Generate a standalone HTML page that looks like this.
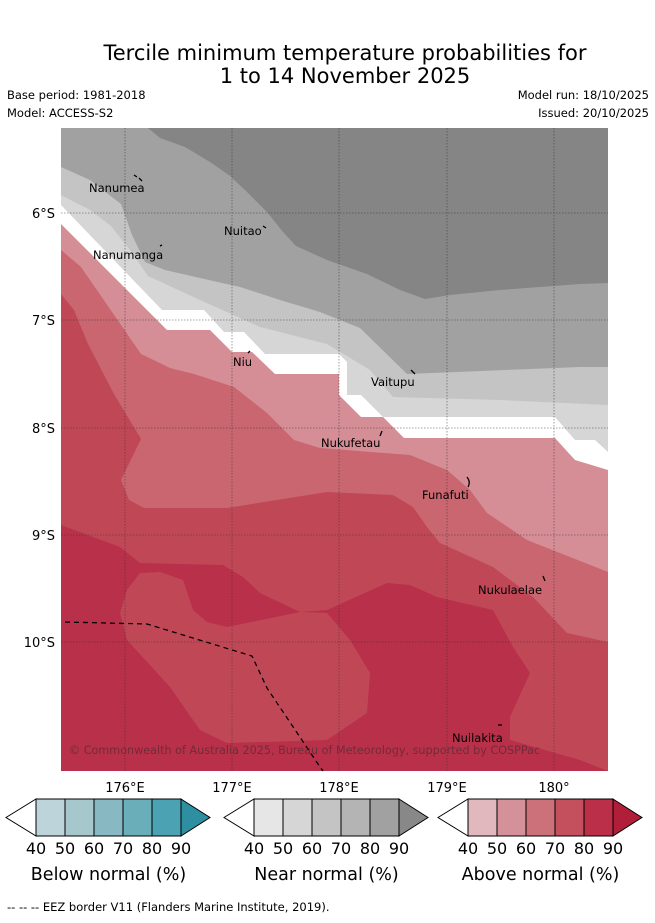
<!DOCTYPE html>
<html><head><meta charset="utf-8"><style>
body{margin:0;background:#fff;width:655px;height:919px;overflow:hidden;font-family:"DejaVu Sans","Liberation Sans",sans-serif;}
svg text{font-family:"DejaVu Sans","Liberation Sans",sans-serif;}
</style></head><body>
<svg id="chart" width="655" height="919" viewBox="0 0 655 919">
<text x="345" y="60" font-size="21" text-anchor="middle">Tercile minimum temperature probabilities for</text>
<text x="345" y="83" font-size="21" text-anchor="middle">1 to 14 November 2025</text>
<text x="7" y="99" font-size="11.5">Base period: 1981-2018</text>
<text x="7" y="117" font-size="11.5">Model: ACCESS-S2</text>
<text x="649" y="99" font-size="11.5" text-anchor="end">Model run: 18/10/2025</text>
<text x="649" y="117" font-size="11.5" text-anchor="end">Issued: 20/10/2025</text>
<g>
<rect x="61" y="128" width="547" height="643" style="fill:#a1a1a1"/>
<path style="fill:#858585" d="M148,128 L160,138 L185,147 L210,162 L233,178 L233,128 Z"/>
<path style="fill:#858585" d="M232,128 L232,178 L245,190 L267,212 L283,232 L296,246 L327,260 L367,274 L400,290 L425,299 L450,295 L500,290 L580,284 L608,283 L608,128 Z"/>
<polygon fill="#c4c4c4" points="61,167 90,180 121,204 132,235 145,262 165,270 200,278 240,287 280,300 320,312 360,328 407,374 580,367 608,367 608,771 61,771"/>
<polygon fill="#d6d6d6" points="61,195 90,210 111,226 130,250 148,276 200,300 260,327 327,344 370,370 393,397 500,400 608,405 608,771 61,771"/>
<polygon fill="#ffffff" points="61,205 162,310 204,310 224,332 244,332 265,354 339,354 347,362 347,395 361,395 383,417 555,417 575,440 595,440 608,452 608,771 61,771"/>
<polygon fill="#d58e96" points="61,224 167,330 210,330 232,352 252,352 275,374 339,374 339,395 361,417 383,417 404,438 555,438 575,460 608,470 608,771 61,771"/>
<polygon fill="#c96670" points="61,250 81,267 141,354 170,368 194,374 234,387 267,413 294,440 320,448 410,455 447,470 470,490 487,513 527,540 608,572 608,771 61,771"/>
<polygon fill="#c04856" points="61,294 74,310 88,344 114,394 141,439 121,480 129,500 144,508 227,508 327,492 393,495 413,507 427,527 440,543 493,567 533,597 567,633 608,642 608,771 61,771"/>
<polygon fill="#b9304a" points="61,525 120,547 140,563 223,565 243,577 260,593 300,612 327,610 387,583 410,585 437,597 493,610 513,647 530,673 510,717 510,740 580,760 608,771 61,771"/>
<polygon fill="#c04856" points="140,573 160,572 183,580 193,610 207,622 227,627 300,612 327,613 350,640 370,673 367,713 327,740 227,743 200,730 170,687 127,640 120,613 127,590"/>
<g stroke="#333" stroke-width="0.8" stroke-dasharray="1.5,1.5" opacity="0.6">
<line x1="125" y1="128" x2="125" y2="771"/><line x1="232" y1="128" x2="232" y2="771"/><line x1="339" y1="128" x2="339" y2="771"/><line x1="447" y1="128" x2="447" y2="771"/><line x1="554" y1="128" x2="554" y2="771"/>
<line x1="61" y1="213" x2="608" y2="213"/><line x1="61" y1="320" x2="608" y2="320"/><line x1="61" y1="428" x2="608" y2="428"/><line x1="61" y1="535" x2="608" y2="535"/><line x1="61" y1="642" x2="608" y2="642"/>
</g>
<polyline fill="none" stroke="#000" stroke-width="1.3" stroke-dasharray="5,4" points="65,622 147,624 242,653 252,656 267,688 320,767 323,771"/>
<g font-size="11.5" fill="#000">
<text x="89" y="192">Nanumea</text>
<text x="93" y="259">Nanumanga</text>
<text x="224" y="235">Nuitao</text>
<text x="233" y="366">Niu</text>
<text x="371" y="386">Vaitupu</text>
<text x="321" y="447">Nukufetau</text>
<text x="422" y="499">Funafuti</text>
<text x="478" y="594">Nukulaelae</text>
<text x="452" y="742">Nuilakita</text>
</g>
<g stroke="#000" stroke-width="1.3">
<line x1="134" y1="175" x2="137" y2="177"/><line x1="139" y1="178" x2="142" y2="181"/>
<line x1="160" y1="246" x2="162" y2="245"/><line x1="263" y1="226" x2="266" y2="228"/>
<line x1="248" y1="353" x2="250" y2="351"/><line x1="411" y1="370" x2="415" y2="374"/>
<line x1="380" y1="436" x2="382" y2="431"/><path d="M467,477 Q471,482 468,487" fill="none"/>
<line x1="543" y1="576" x2="545" y2="581"/><line x1="498" y1="725" x2="502" y2="725"/>
</g>
<text x="69" y="754" font-size="11.2" fill="#5a2a32" opacity="0.75">© Commonwealth of Australia 2025, Bureau of Meteorology, supported by COSPPac</text>
</g>
<g font-size="13">
<text x="55" y="218" text-anchor="end">6°S</text><text x="55" y="325" text-anchor="end">7°S</text><text x="55" y="433" text-anchor="end">8°S</text><text x="55" y="540" text-anchor="end">9°S</text><text x="55" y="647" text-anchor="end">10°S</text>
</g>
<g font-size="13" text-anchor="middle">
<text x="125" y="792">176°E</text><text x="232" y="792">177°E</text><text x="339" y="792">178°E</text><text x="447" y="792">179°E</text><text x="554" y="792">180°</text>
</g>
<g id="cbars"></g>
<text x="7" y="911" font-size="11.5">--  --  -- EEZ border V11 (Flanders Marine Institute, 2019).</text>
</svg>
<script>
const tickLabels = ["40","50","60","70","80","90"];
const belowColors = ["#bcd4da","#a6c8cd","#88b8c2","#6aaeba","#4aa2b2","#2e8fa0"];
const nearColors = ["#e6e6e6","#d6d6d6","#c4c4c4","#b4b4b4","#a1a1a1","#888888"];
const aboveColors = ["#e0b8be","#d5919a","#cc7079","#c4505e","#bb2f48","#b01e3a"];
const barTitles = ["Below normal (%)","Near normal (%)","Above normal (%)"];
const NS="http://www.w3.org/2000/svg";
const g=document.getElementById('cbars');
const bars=[[36,belowColors],[254,nearColors],[468,aboveColors]];
function mk(t,a){const e=document.createElementNS(NS,t);for(const k in a)e.setAttribute(k,a[k]);return e;}
bars.forEach(function(b,bi){
  const x0=b[0], cols=b[1], y0=799, h=37, w=29, n=tickLabels.length-1;
  const grp=mk('g',{});
  
  
  const lt=mk('polygon',{points:(x0-30)+','+(y0+h/2)+' '+x0+','+y0+' '+x0+','+(y0+h),fill:'#fff',stroke:'#000','stroke-width':1});
  
  
  grp.appendChild(lt);
  for(let i=0;i<n;i++){
    const r=mk('rect',{x:x0+i*w,y:y0,width:w,height:h,fill:cols[i],stroke:'#000','stroke-width':1});
    
    
    grp.appendChild(r);
  }
  const xe=x0+n*w;
  const rt=mk('polygon',{points:xe+','+y0+' '+(xe+29)+','+(y0+h/2)+' '+xe+','+(y0+h),fill:cols[n],stroke:'#000','stroke-width':1});
  
  
  grp.appendChild(rt);
  tickLabels.forEach(function(t,i){
    const tx=mk('text',{x:x0+i*w,y:854,'font-size':16,'text-anchor':'middle'});
    tx.textContent=t;
    
    
    grp.appendChild(tx);
  });
  const ti=mk('text',{x:x0+n*w/2,y:880,'font-size':17.5,'text-anchor':'middle'});
  ti.textContent=barTitles[bi];
  
  
  grp.appendChild(ti);
  g.appendChild(grp);
});
</script>
</body></html>
